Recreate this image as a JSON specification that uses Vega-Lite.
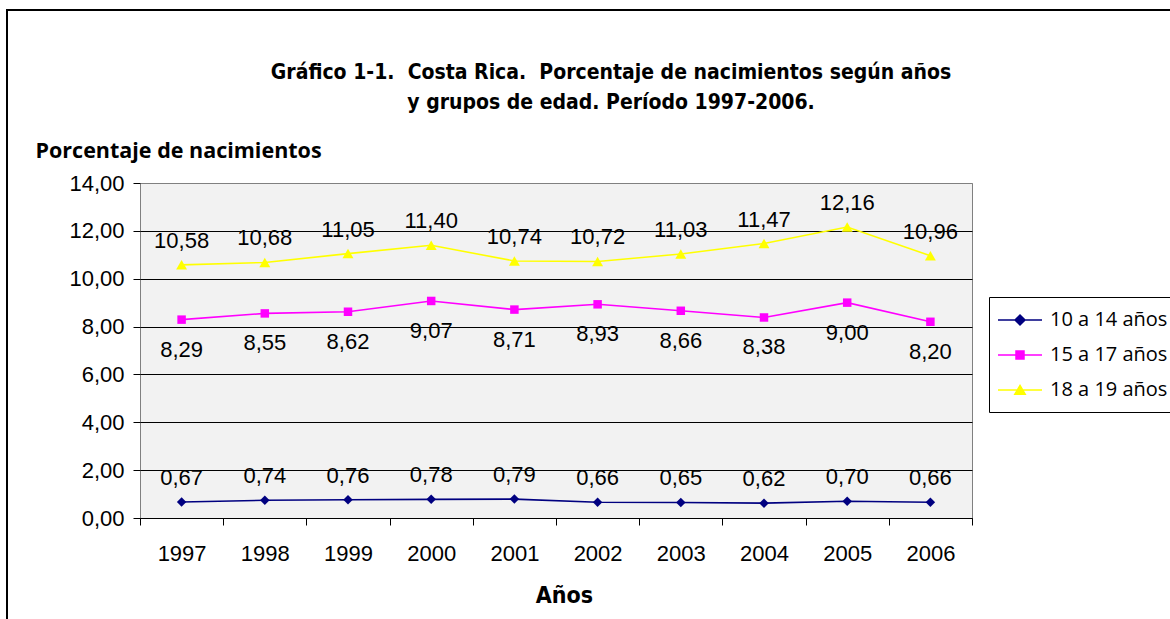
{
  "$schema": "https://vega.github.io/schema/vega-lite/v6.json",
  "width": 832,
  "height": 335,
  "autosize": "none",
  "padding": {"left": 140, "top": 183, "right": 198, "bottom": 101},
  "background": "white",
  "title": {
    "text": ["Gráfico 1-1.\u00a0 Costa Rica.\u00a0 Porcentaje de nacimientos según años", "y grupos de edad. Período 1997-2006."],
    "font": "DejaVu Sans Condensed, Roboto, sans-serif",
    "fontSize": 21,
    "fontWeight": "bold",
    "color": "black",
    "anchor": "middle",
    "frame": "group",
    "lineHeight": 30,
    "dx": 55,
    "dy": 131,
    "offset": 27
  },
  "config": {
    "locale": {"number": {"decimal": ",", "thousands": ".", "grouping": [3], "currency": ["", ""]}},
    "view": {"fill": "#F2F2F2", "stroke": "#808080", "strokeWidth": 1},
    "font": "Liberation Sans"
  },
  "data": {
    "values": [
      {"year": "1997", "series": "10 a 14 años", "value": 0.67},
      {"year": "1998", "series": "10 a 14 años", "value": 0.74},
      {"year": "1999", "series": "10 a 14 años", "value": 0.76},
      {"year": "2000", "series": "10 a 14 años", "value": 0.78},
      {"year": "2001", "series": "10 a 14 años", "value": 0.79},
      {"year": "2002", "series": "10 a 14 años", "value": 0.66},
      {"year": "2003", "series": "10 a 14 años", "value": 0.65},
      {"year": "2004", "series": "10 a 14 años", "value": 0.62},
      {"year": "2005", "series": "10 a 14 años", "value": 0.70},
      {"year": "2006", "series": "10 a 14 años", "value": 0.66},
      {"year": "1997", "series": "15 a 17 años", "value": 8.29},
      {"year": "1998", "series": "15 a 17 años", "value": 8.55},
      {"year": "1999", "series": "15 a 17 años", "value": 8.62},
      {"year": "2000", "series": "15 a 17 años", "value": 9.07},
      {"year": "2001", "series": "15 a 17 años", "value": 8.71},
      {"year": "2002", "series": "15 a 17 años", "value": 8.93},
      {"year": "2003", "series": "15 a 17 años", "value": 8.66},
      {"year": "2004", "series": "15 a 17 años", "value": 8.38},
      {"year": "2005", "series": "15 a 17 años", "value": 9.00},
      {"year": "2006", "series": "15 a 17 años", "value": 8.20},
      {"year": "1997", "series": "18 a 19 años", "value": 10.58},
      {"year": "1998", "series": "18 a 19 años", "value": 10.68},
      {"year": "1999", "series": "18 a 19 años", "value": 11.05},
      {"year": "2000", "series": "18 a 19 años", "value": 11.40},
      {"year": "2001", "series": "18 a 19 años", "value": 10.74},
      {"year": "2002", "series": "18 a 19 años", "value": 10.72},
      {"year": "2003", "series": "18 a 19 años", "value": 11.03},
      {"year": "2004", "series": "18 a 19 años", "value": 11.47},
      {"year": "2005", "series": "18 a 19 años", "value": 12.16},
      {"year": "2006", "series": "18 a 19 años", "value": 10.96}
    ]
  },
  "encoding": {
    "x": {
      "field": "year",
      "type": "ordinal",
      "scale": {"type": "band", "paddingInner": 0, "paddingOuter": 0},
      "axis": {
        "title": "Años",
        "titleFont": "DejaVu Sans Condensed, Roboto, sans-serif",
        "titleFontSize": 23,
        "titleFontWeight": "bold",
        "titleColor": "black",
        "titleX": 424,
        "titleY": 84,
        "titleBaseline": "alphabetic",
        "labelAngle": 0,
        "labelFont": "Liberation Sans",
        "labelFontSize": 22,
        "labelColor": "black",
        "labelPadding": 18,
        "labelBaseline": "top",
        "tickBand": "extent",
        "tickSize": 7,
        "tickColor": "black",
        "domainColor": "black",
        "domainWidth": 1,
        "grid": false
      }
    },
    "y": {
      "field": "value",
      "type": "quantitative",
      "scale": {"domain": [0, 14], "nice": false, "zero": true},
      "axis": {
        "title": "Porcentaje de nacimientos",
        "titleFont": "Open Sans",
        "titleFontSize": 21.5,
        "titleFontWeight": "bold",
        "titleColor": "black",
        "titleAngle": 0,
        "titleAlign": "left",
        "titleBaseline": "alphabetic",
        "titleX": -105,
        "titleY": -26,
        "values": [0, 2, 4, 6, 8, 10, 12, 14],
        "format": ".2f",
        "labelFont": "Liberation Sans",
        "labelFontSize": 22,
        "labelColor": "black",
        "labelPadding": 9,
        "tickSize": 7,
        "tickColor": "black",
        "domain": false,
        "grid": true,
        "gridColor": {"condition": {"test": "datum.value === 14", "value": "#808080"}, "value": "black"},
        "gridWidth": 1
      }
    },
    "color": {
      "field": "series",
      "type": "nominal",
      "scale": {"domain": ["10 a 14 años", "15 a 17 años", "18 a 19 años"], "range": ["#000080", "#FF00FF", "#FFFF00"]},
      "legend": {
        "title": null,
        "orient": "none",
        "legendX": 849,
        "legendY": 114,
        "strokeColor": "black",
        "fillColor": "white",
        "padding": 12,
        "symbolOffset": 8,
        "symbolSize": 400,
        "symbolOpacity": 1,
        "labelOffset": 19,
        "labelFont": "Open Sans",
        "labelFontSize": 20,
        "labelColor": "black",
        "rowPadding": 14,
        "encoding": {
          "symbols": {
            "shape": {
              "condition": [
                {"test": "datum.value === '10 a 14 años'", "value": "M-2.2,0H2.2M0,-0.5L0.5,0L0,0.5L-0.5,0Z"},
                {"test": "datum.value === '15 a 17 años'", "value": "M-2.2,0H2.2M-0.4,-0.4H0.4V0.4H-0.4Z"}
              ],
              "value": "M-2.2,0H2.2M0,-0.45L0.52,0.42H-0.52Z"
            },
            "strokeWidth": {"value": 1.5}
          }
        }
      }
    }
  },
  "layer": [
    {
      "mark": {"type": "line", "strokeWidth": 1.6}
    },
    {
      "transform": [{"filter": "datum.series === '10 a 14 años'"}],
      "mark": {"type": "point", "filled": true, "opacity": 1, "shape": "diamond", "size": 90}
    },
    {
      "transform": [{"filter": "datum.series === '15 a 17 años'"}],
      "mark": {"type": "point", "filled": true, "opacity": 1, "shape": "square", "size": 72}
    },
    {
      "transform": [{"filter": "datum.series === '18 a 19 años'"}],
      "mark": {"type": "point", "filled": true, "opacity": 1, "shape": "triangle-up", "size": 120}
    },
    {
      "transform": [{"filter": "datum.series !== '15 a 17 años'"}],
      "mark": {"type": "text", "font": "Liberation Sans", "fontSize": 22, "color": "black", "baseline": "middle", "dy": -24},
      "encoding": {
        "text": {"field": "value", "type": "quantitative", "format": ".2f"},
        "color": {"value": "black"},
        "opacity": {
          "field": "year",
          "type": "ordinal",
          "scale": {"range": [1, 1]},
          "legend": {
            "title": null,
            "orient": "none",
            "legendX": -133,
            "legendY": -173,
            "padding": 800,
            "strokeColor": "black",
            "fillColor": null,
            "symbolOpacity": 0,
            "labelExpr": "''",
            "encoding": {"legend": {"strokeWidth": {"value": 2}}}
          }
        }
      }
    },
    {
      "transform": [{"filter": "datum.series === '15 a 17 años'"}],
      "mark": {"type": "text", "font": "Liberation Sans", "fontSize": 22, "color": "black", "baseline": "middle", "dy": 30},
      "encoding": {
        "text": {"field": "value", "type": "quantitative", "format": ".2f"},
        "color": {"value": "black"}
      }
    }
  ]
}
